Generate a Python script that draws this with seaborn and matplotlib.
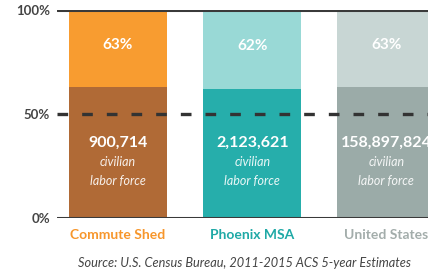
import matplotlib
matplotlib.use("Agg")
import matplotlib.pyplot as plt
import seaborn as sns

# datos
regions = ["Commute Shed", "Phoenix MSA", "United States"]
participation = [63, 62, 63]
labor_force = ["900,714", "2,123,621", "158,897,824"]
full = [100, 100, 100]

light_colors = ["#F89C30", "#99D9D6", "#C8D6D4"]
dark_colors = ["#B06A36", "#26AEAB", "#9BABA8"]
label_colors = ["#F7962B", "#1FA9A6", "#A3ADAB"]

sns.set_style("white")
plt.rcParams["font.family"] = ["Lato", "DejaVu Sans"]

fig = plt.figure(figsize=(4.28, 2.73), dpi=100)
ax = fig.add_axes([57 / 428, 55 / 273, 1 - 57 / 428, 208 / 273])

sns.barplot(x=regions, y=full, hue=regions, palette=light_colors,
            width=0.73, legend=False, ax=ax, saturation=1, linewidth=0)
sns.barplot(x=regions, y=participation, hue=regions, palette=dark_colors,
            width=0.73, legend=False, ax=ax, saturation=1, linewidth=0)

ax.axhline(100, color="#3a3a3a", lw=2.2, zorder=5)
ax.axhline(0, color="#3a3a3a", lw=2.2, zorder=5)
ax.axhline(50, color="#333333", lw=2.4, ls=(0, (3.2, 4.2)), zorder=5)

for i in range(len(regions)):
    ax.text(i, (participation[i] + 100) / 2 + 1.5, f"{participation[i]}%", ha="center", va="center",
            color="white", fontsize=11, fontweight="bold")
    ax.text(i, 36, labor_force[i], ha="center", va="center",
            color="white", fontsize=11.5, fontweight="bold")
    ax.text(i, 27, "civilian", ha="center", va="center",
            color="white", fontsize=9, style="italic", alpha=0.9)
    ax.text(i, 18, "labor force", ha="center", va="center",
            color="white", fontsize=9, style="italic", alpha=0.9)

ax.set_ylim(0, 100)
ax.set_xlim(-0.455, 2.31)
ax.set_yticks([0, 50, 100])
ax.set_yticklabels(["0%", "50%", "100%"], fontsize=9.5, fontweight="bold", color="#444444")
ax.tick_params(axis="y", length=0, pad=5)
ax.tick_params(axis="x", length=0, pad=8)
for lbl, c in zip(ax.get_xticklabels(), label_colors):
    lbl.set_color(c)
    lbl.set_fontweight("bold")
    lbl.set_fontsize(10)
ax.set_xlabel("")
ax.set_ylabel("")
sns.despine(ax=ax, left=True, bottom=True)

fig.text(0.572, 0.037, "Source: U.S. Census Bureau, 2011-2015 ACS 5-year Estimates",
         ha="center", va="center", fontsize=9.2, style="italic", color="#444444")

fig.savefig("out.png", dpi=100)
